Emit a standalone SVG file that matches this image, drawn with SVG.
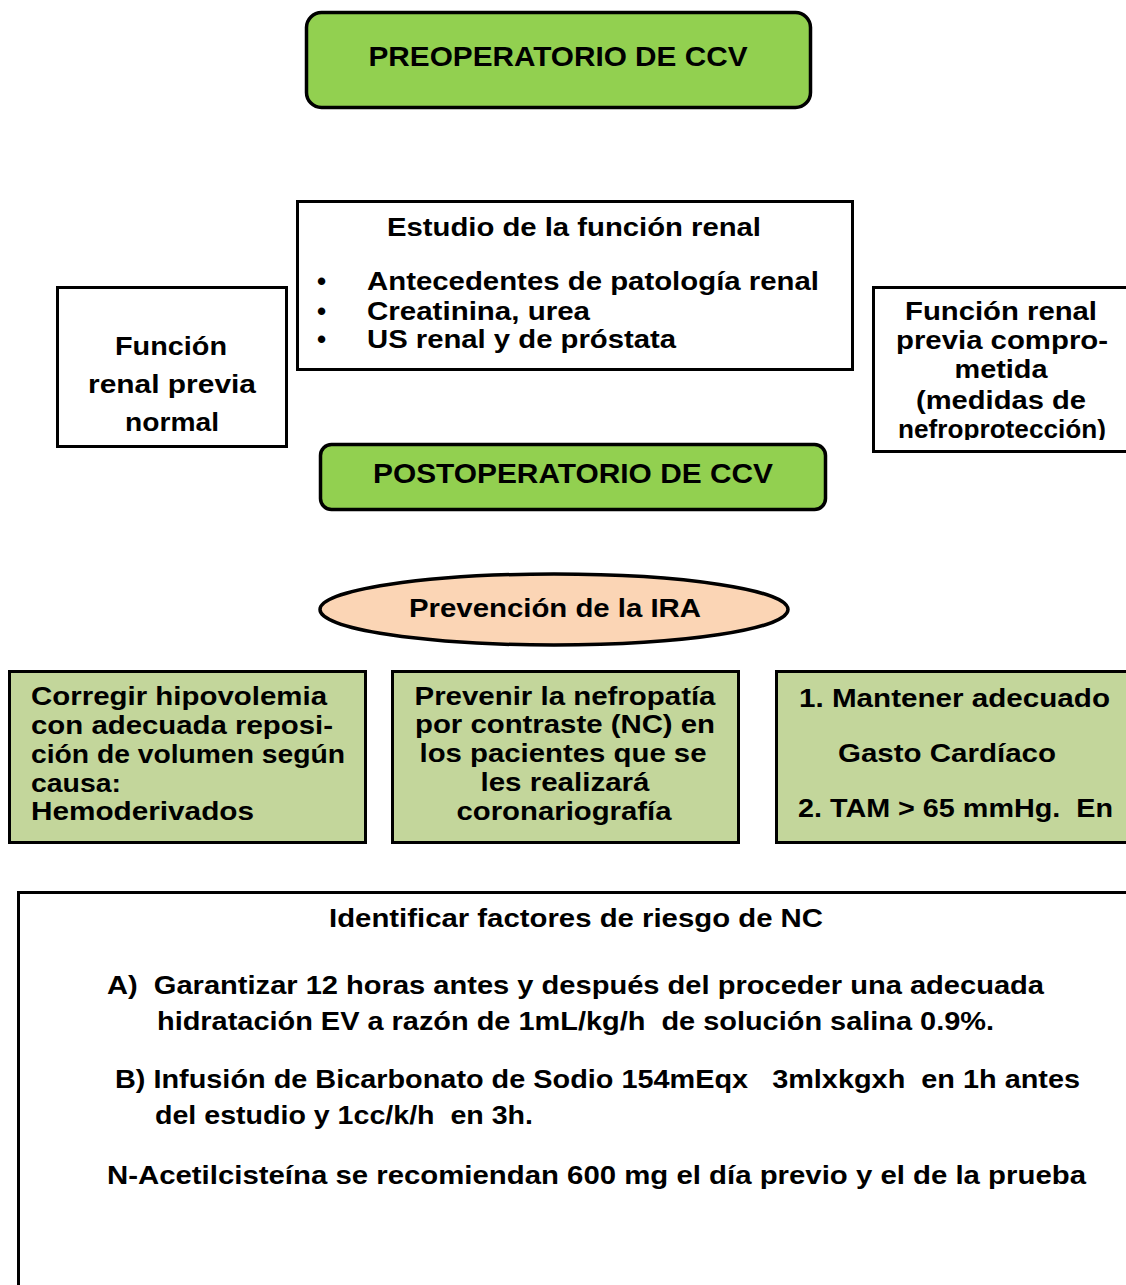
<svg xmlns="http://www.w3.org/2000/svg" width="1126" height="1285" viewBox="0 0 1126 1285">
<style>
text{font-family:"Liberation Sans",Arial,sans-serif;font-weight:bold;fill:#000;font-size:26px}
.c{text-anchor:middle}
.box{fill:#fff;stroke:#000;stroke-width:3}
.hdr{fill:#92D050;stroke:#000;stroke-width:3.5}
.lg{fill:#C3D69B;stroke:#000;stroke-width:3}
.pe{fill:#FBD5B5;stroke:#000;stroke-width:3.5}
.big{font-size:28px}
</style>
<defs>
<clipPath id="clipR"><rect x="875" y="289" width="251" height="151"/></clipPath>
<clipPath id="clipE"><rect x="299" y="203" width="552" height="162"/></clipPath>
</defs>
<rect width="1126" height="1285" fill="#fff"/>
<g id="connectors"></g>
<g id="preop">
<rect class="hdr" x="306.5" y="12.5" width="504" height="95" rx="15"/>
<text class="c big" x="558" y="66" textLength="379" lengthAdjust="spacingAndGlyphs">PREOPERATORIO DE CCV</text>
</g>
<g id="estudio">
<rect class="box" x="297.5" y="201.5" width="555" height="168"/>
<g clip-path="url(#clipE)">
<text class="c" x="574" y="236" textLength="374" lengthAdjust="spacingAndGlyphs">Estudio de la función renal</text>
<text x="317" y="290">•</text>
<text x="367" y="290" textLength="452" lengthAdjust="spacingAndGlyphs">Antecedentes de patología renal</text>
<text x="317" y="320">•</text>
<text x="367" y="320" textLength="223" lengthAdjust="spacingAndGlyphs">Creatinina, urea</text>
<text x="317" y="348">•</text>
<text x="367" y="348" textLength="309" lengthAdjust="spacingAndGlyphs">US renal y de próstata</text>
</g>
</g>
<g id="normal">
<rect class="box" x="57.5" y="287.5" width="229" height="159"/>
<text class="c" x="171" y="355" textLength="112" lengthAdjust="spacingAndGlyphs">Función</text>
<text class="c" x="172" y="393" textLength="168" lengthAdjust="spacingAndGlyphs">renal previa</text>
<text class="c" x="172" y="431" textLength="94" lengthAdjust="spacingAndGlyphs">normal</text>
</g>
<g id="comprometida">
<rect class="box" x="873.5" y="287.5" width="260" height="164"/>
<g clip-path="url(#clipR)">
<text class="c" x="1001" y="320" textLength="192" lengthAdjust="spacingAndGlyphs">Función renal</text>
<text class="c" x="1002" y="349" textLength="212" lengthAdjust="spacingAndGlyphs">previa compro-</text>
<text class="c" x="1001" y="378" textLength="93" lengthAdjust="spacingAndGlyphs">metida</text>
<text class="c" x="1001" y="409" textLength="170" lengthAdjust="spacingAndGlyphs">(medidas de</text>
<text class="c" x="1002" y="438" textLength="208" lengthAdjust="spacingAndGlyphs">nefroprotección)</text>
</g>
</g>
<g id="postop">
<rect class="hdr" x="320.5" y="444.5" width="505" height="65" rx="11"/>
<text class="c big" x="573" y="483" textLength="400" lengthAdjust="spacingAndGlyphs">POSTOPERATORIO DE CCV</text>
</g>
<g id="prevencion">
<ellipse class="pe" cx="554" cy="609.5" rx="234" ry="35.5"/>
<text class="c" x="555" y="617" textLength="292" lengthAdjust="spacingAndGlyphs">Prevención de la IRA</text>
</g>
<g id="hipovolemia">
<rect class="lg" x="9.5" y="671.5" width="356" height="171"/>
<text x="31" y="705" textLength="296" lengthAdjust="spacingAndGlyphs">Corregir hipovolemia</text>
<text x="31" y="734" textLength="302" lengthAdjust="spacingAndGlyphs">con adecuada reposi-</text>
<text x="31" y="763" textLength="314" lengthAdjust="spacingAndGlyphs">ción de volumen según</text>
<text x="31" y="792" textLength="90" lengthAdjust="spacingAndGlyphs">causa:</text>
<text x="31" y="820" textLength="223" lengthAdjust="spacingAndGlyphs">Hemoderivados</text>
</g>
<g id="nefropatia">
<rect class="lg" x="392.5" y="671.5" width="346" height="171"/>
<text class="c" x="565" y="705" textLength="301" lengthAdjust="spacingAndGlyphs">Prevenir la nefropatía</text>
<text class="c" x="565" y="733" textLength="300" lengthAdjust="spacingAndGlyphs">por contraste (NC) en</text>
<text class="c" x="563" y="762" textLength="287" lengthAdjust="spacingAndGlyphs">los pacientes que se</text>
<text class="c" x="565" y="791" textLength="169" lengthAdjust="spacingAndGlyphs">les realizará</text>
<text class="c" x="564" y="820" textLength="215" lengthAdjust="spacingAndGlyphs">coronariografía</text>
</g>
<g id="gasto">
<rect class="lg" x="776.5" y="671.5" width="360" height="171"/>
<text x="799" y="707" textLength="311" lengthAdjust="spacingAndGlyphs">1. Mantener adecuado</text>
<text x="838" y="762" textLength="218" lengthAdjust="spacingAndGlyphs">Gasto Cardíaco</text>
<text x="798" y="817" textLength="315" lengthAdjust="spacingAndGlyphs" xml:space="preserve">2. TAM &gt; 65 mmHg.  En</text>
</g>
<g id="factores">
<rect class="box" x="18.5" y="892.5" width="1120" height="400"/>
<text class="c" x="576" y="927" textLength="494" lengthAdjust="spacingAndGlyphs">Identificar factores de riesgo de NC</text>
<text x="107" y="994" textLength="937" lengthAdjust="spacingAndGlyphs" xml:space="preserve">A)  Garantizar 12 horas antes y después del proceder una adecuada</text>
<text x="157" y="1030" textLength="837" lengthAdjust="spacingAndGlyphs" xml:space="preserve">hidratación EV a razón de 1mL/kg/h  de solución salina 0.9%.</text>
<text x="115" y="1088" textLength="965" lengthAdjust="spacingAndGlyphs" xml:space="preserve">B) Infusión de Bicarbonato de Sodio 154mEqx   3mlxkgxh  en 1h antes</text>
<text x="155" y="1124" textLength="378" lengthAdjust="spacingAndGlyphs" xml:space="preserve">del estudio y 1cc/k/h  en 3h.</text>
<text x="107" y="1184" textLength="979" lengthAdjust="spacingAndGlyphs">N-Acetilcisteína se recomiendan 600 mg el día previo y el de la prueba</text>
</g>
</svg>
